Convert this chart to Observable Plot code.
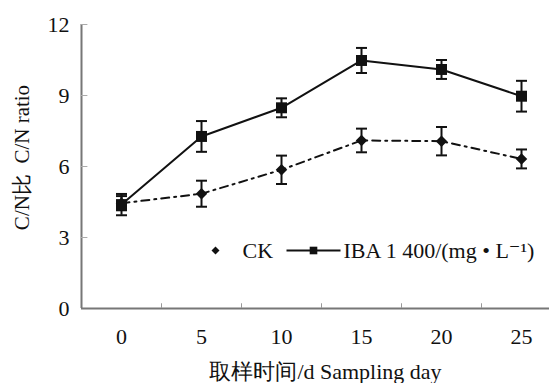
<!DOCTYPE html>
<html><head><meta charset="utf-8">
<script src="https://cdn.jsdelivr.net/npm/d3@7"></script>
<script src="https://cdn.jsdelivr.net/npm/@observablehq/plot@0.6"></script>
<style>body{margin:0;background:#fff;} svg text{font-family:"Liberation Serif","DejaVu Serif",serif;}</style>
</head><body><div id="chart"></div>
<script>
const days = [0, 5, 10, 15, 20, 25];
const ibaMean = [4.39, 7.27, 8.48, 10.48, 10.10, 8.97];
const ibaErr = [0.45, 0.65, 0.40, 0.53, 0.40, 0.65];
const ckMean = [4.45, 4.85, 5.86, 7.10, 7.07, 6.32];
const ckErr = [0.30, 0.55, 0.60, 0.50, 0.60, 0.40];
const yTicks = [0, 3, 6, 9, 12];
const seriesNames = ["CK", "IBA 1 400/(mg \u2022 L\u207B\u00B9)"];
const xTitle = "取样时间/d Sampling day";
const yTitle = "C/N比  C/N ratio";

const xDomain = [days[0] - 2.5, days[days.length - 1] + 2.5];
const bounds = days.slice(0, -1).map(d => d + 2.5);
const iba = days.map((d, i) => ({day: d, m: ibaMean[i], e: ibaErr[i]}));
const ck = days.map((d, i) => ({day: d, m: ckMean[i], e: ckErr[i]}));

const hline = {draw(ctx, size) { const w = Math.sqrt(size / Math.PI); ctx.moveTo(-w, 0); ctx.lineTo(w, 0); }};
const axisGray = "#777";
const ink = "#111";
const serif = "Liberation Serif";
const fs = 22;

function series(data, opts) {
  return [
    Plot.line(data, {x: "day", y: "m", stroke: ink, strokeWidth: opts.lw, strokeDasharray: opts.dash}),
    Plot.ruleX(data, {x: "day", y1: d => d.m - d.e, y2: d => d.m + d.e, stroke: ink, strokeWidth: 2}),
    Plot.dot(data, {x: "day", y: d => d.m + d.e, symbol: hline, r: 5.5, stroke: ink, strokeWidth: 2, fill: "none"}),
    Plot.dot(data, {x: "day", y: d => d.m - d.e, symbol: hline, r: 5.5, stroke: ink, strokeWidth: 2, fill: "none"}),
    Plot.dot(data, {x: "day", y: "m", symbol: opts.symbol, r: opts.r, fill: ink, stroke: "none"})
  ];
}

const chart = Plot.plot({
  width: 549, height: 383,
  marginLeft: 81, marginRight: 0, marginTop: 24, marginBottom: 75,
  style: "font-family: 'Liberation Serif', serif; font-size: 22px; color: #111; background: white;",
  x: {type: "linear", domain: xDomain, range: [81, 561]},
  y: {domain: [yTicks[0], yTicks[yTicks.length - 1]]},
  marks: [
    Plot.ruleY([yTicks[0]], {stroke: axisGray, strokeWidth: 2}),
    Plot.ruleX([xDomain[0]], {y1: yTicks[0], y2: yTicks[yTicks.length - 1], stroke: axisGray, strokeWidth: 2}),
    Plot.ruleX(bounds, {x: d => d, y1: 0, y2: 0.2, stroke: "#999", strokeWidth: 1}),
    Plot.ruleY(yTicks.slice(1), {y: d => d, x1: xDomain[0], x2: xDomain[0] + 0.4, stroke: "#aaa", strokeWidth: 1}),
    Plot.axisX(days, {tickSize: 0, tickPadding: 20, label: null, fontFamily: serif, fontSize: fs}),
    Plot.axisY(yTicks, {tickSize: 0, tickPadding: 12, label: null, fontFamily: serif, fontSize: fs}),
    ...series(ck, {lw: 2, dash: "8,5,2,5", symbol: "diamond2", r: 5.2}),
    ...series(iba, {lw: 2, dash: null, symbol: "square", r: 6.2}),
    // legend
    Plot.dot([seriesNames[0]], {frameAnchor: "top-left", dx: 134, dy: 226, symbol: "diamond2", r: 3.6, fill: ink}),
    Plot.text([seriesNames[0]], {frameAnchor: "top-left", dx: 161, dy: 226, text: d => d, textAnchor: "start", lineAnchor: "middle", fontSize: fs, fontFamily: serif}),
    Plot.dot([seriesNames[1]], {frameAnchor: "top-left", dx: 232, dy: 226, symbol: hline, r: 27, stroke: ink, strokeWidth: 2, fill: "none"}),
    Plot.dot([seriesNames[1]], {frameAnchor: "top-left", dx: 232, dy: 226, symbol: "square", r: 4.3, fill: ink}),
    Plot.text([seriesNames[1]], {frameAnchor: "top-left", dx: 262, dy: 226, text: d => d, textAnchor: "start", lineAnchor: "middle", fontSize: fs, fontFamily: serif}),
    // titles
    Plot.text([xTitle], {frameAnchor: "bottom", dx: 10, dy: 63, text: d => d, textAnchor: "middle", lineAnchor: "middle", fontSize: fs, fontFamily: serif}),
    Plot.text([yTitle], {frameAnchor: "left", dx: -59, dy: -9, rotate: -90, text: d => d, textAnchor: "middle", lineAnchor: "middle", fontSize: 21, fontFamily: serif})
  ]
});
document.getElementById("chart").appendChild(chart);
</script>
</body></html>
